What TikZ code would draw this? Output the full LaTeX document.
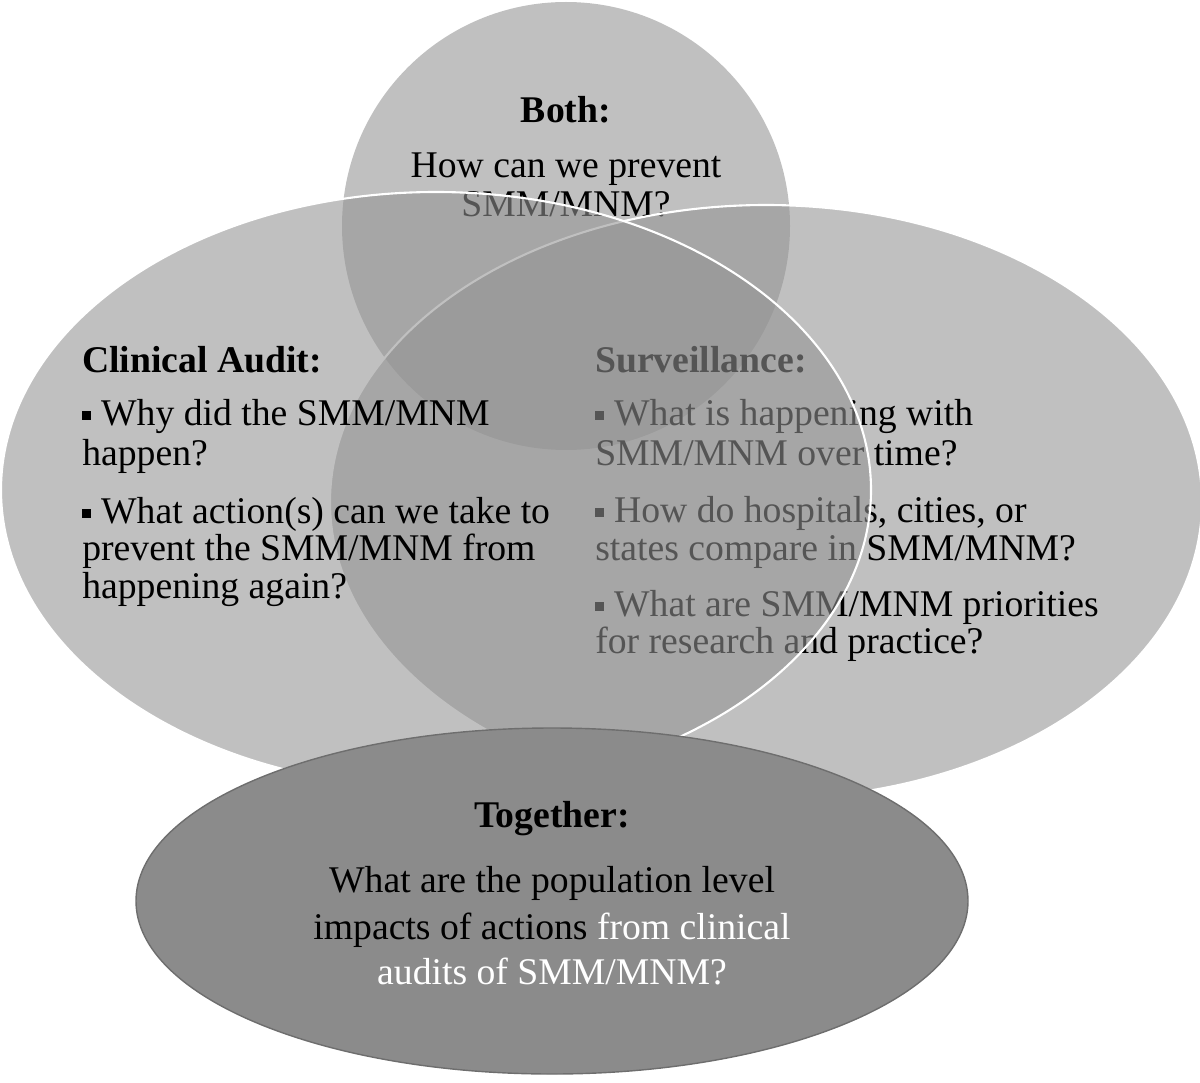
\documentclass[tikz,border=0pt]{standalone}
\usepackage{fontspec}
\setmainfont{Liberation Serif}
\definecolor{vennfill}{gray}{0.576}
\definecolor{togfill}{gray}{0.545}
\definecolor{togline}{gray}{0.43}
\newcommand\sq{\rule[0.13em]{0.24em}{0.24em}\hspace{0.26em}}

\begin{document}
\begin{tikzpicture}[x=0.025cm,y=-0.025cm,
  venn/.style={fill=vennfill,fill opacity=0.58},
  rim/.style={draw=white,line width=1.5pt},
  txt/.style={inner sep=0pt,font=\fontsize{26.8}{32}\selectfont},
  head/.style={txt,font=\fontsize{26.8}{32}\selectfont\bfseries}]
\useasboundingbox (0,0) rectangle (1200,1082);

% both (top circle)
\fill[venn] (566,226) circle [radius=224];
\node[head,anchor=base] (both) at (566,123) {Both:};
\node[txt,anchor=base] (both1) at (566,178) {How can we prevent};
\node[txt,anchor=base] (both2) at (566,217) {SMM/MNM?};

% surveillance (right)
\path[venn,rim] (766,502) ellipse [x radius=436, y radius=297];
\node[head,anchor=base west] (surv) at (595,372) {Surveillance:};
\foreach\y/\t [count=\k] in {425/{\sq What is happening with},465/{SMM/MNM over time?},
    522/{\sq How do hospitals, cities, or},560/{states compare in SMM/MNM?},
    616/{\sq What are SMM/MNM priorities},653/{for research and practice?}}{
    \node[txt,anchor=base west] (surv\k) at (595,\y) {\t};
}

% clinical audit (left)
\path[venn,rim] (436,490) ellipse [x radius=435, y radius=298];
\node[head,anchor=base west] (audit) at (82,372) {Clinical Audit:};
\foreach\y/\t [count=\k] in {425/{\sq Why did the SMM/MNM},465/{happen?},
    523/{\sq What action(s) can we take to},560/{prevent the SMM/MNM from},
    598/{happening again?}}{
    \node[txt,anchor=base west] (audit\k) at (82,\y) {\t};
}

% together (bottom)
\path[fill=togfill,draw=togline,line width=1pt] (552,901) ellipse [x radius=416, y radius=173];
\node[head,anchor=base] (tog) at (552,827) {Together:};
\node[txt,anchor=base] (tog1) at (552,892) {What are the population level};
\node[txt,anchor=base] (tog2) at (552,939) {impacts of actions \textcolor{white}{from clinical}};
\node[txt,anchor=base,text=white] (tog3) at (552,984) {audits of SMM/MNM?};
\end{tikzpicture}
\end{document}
